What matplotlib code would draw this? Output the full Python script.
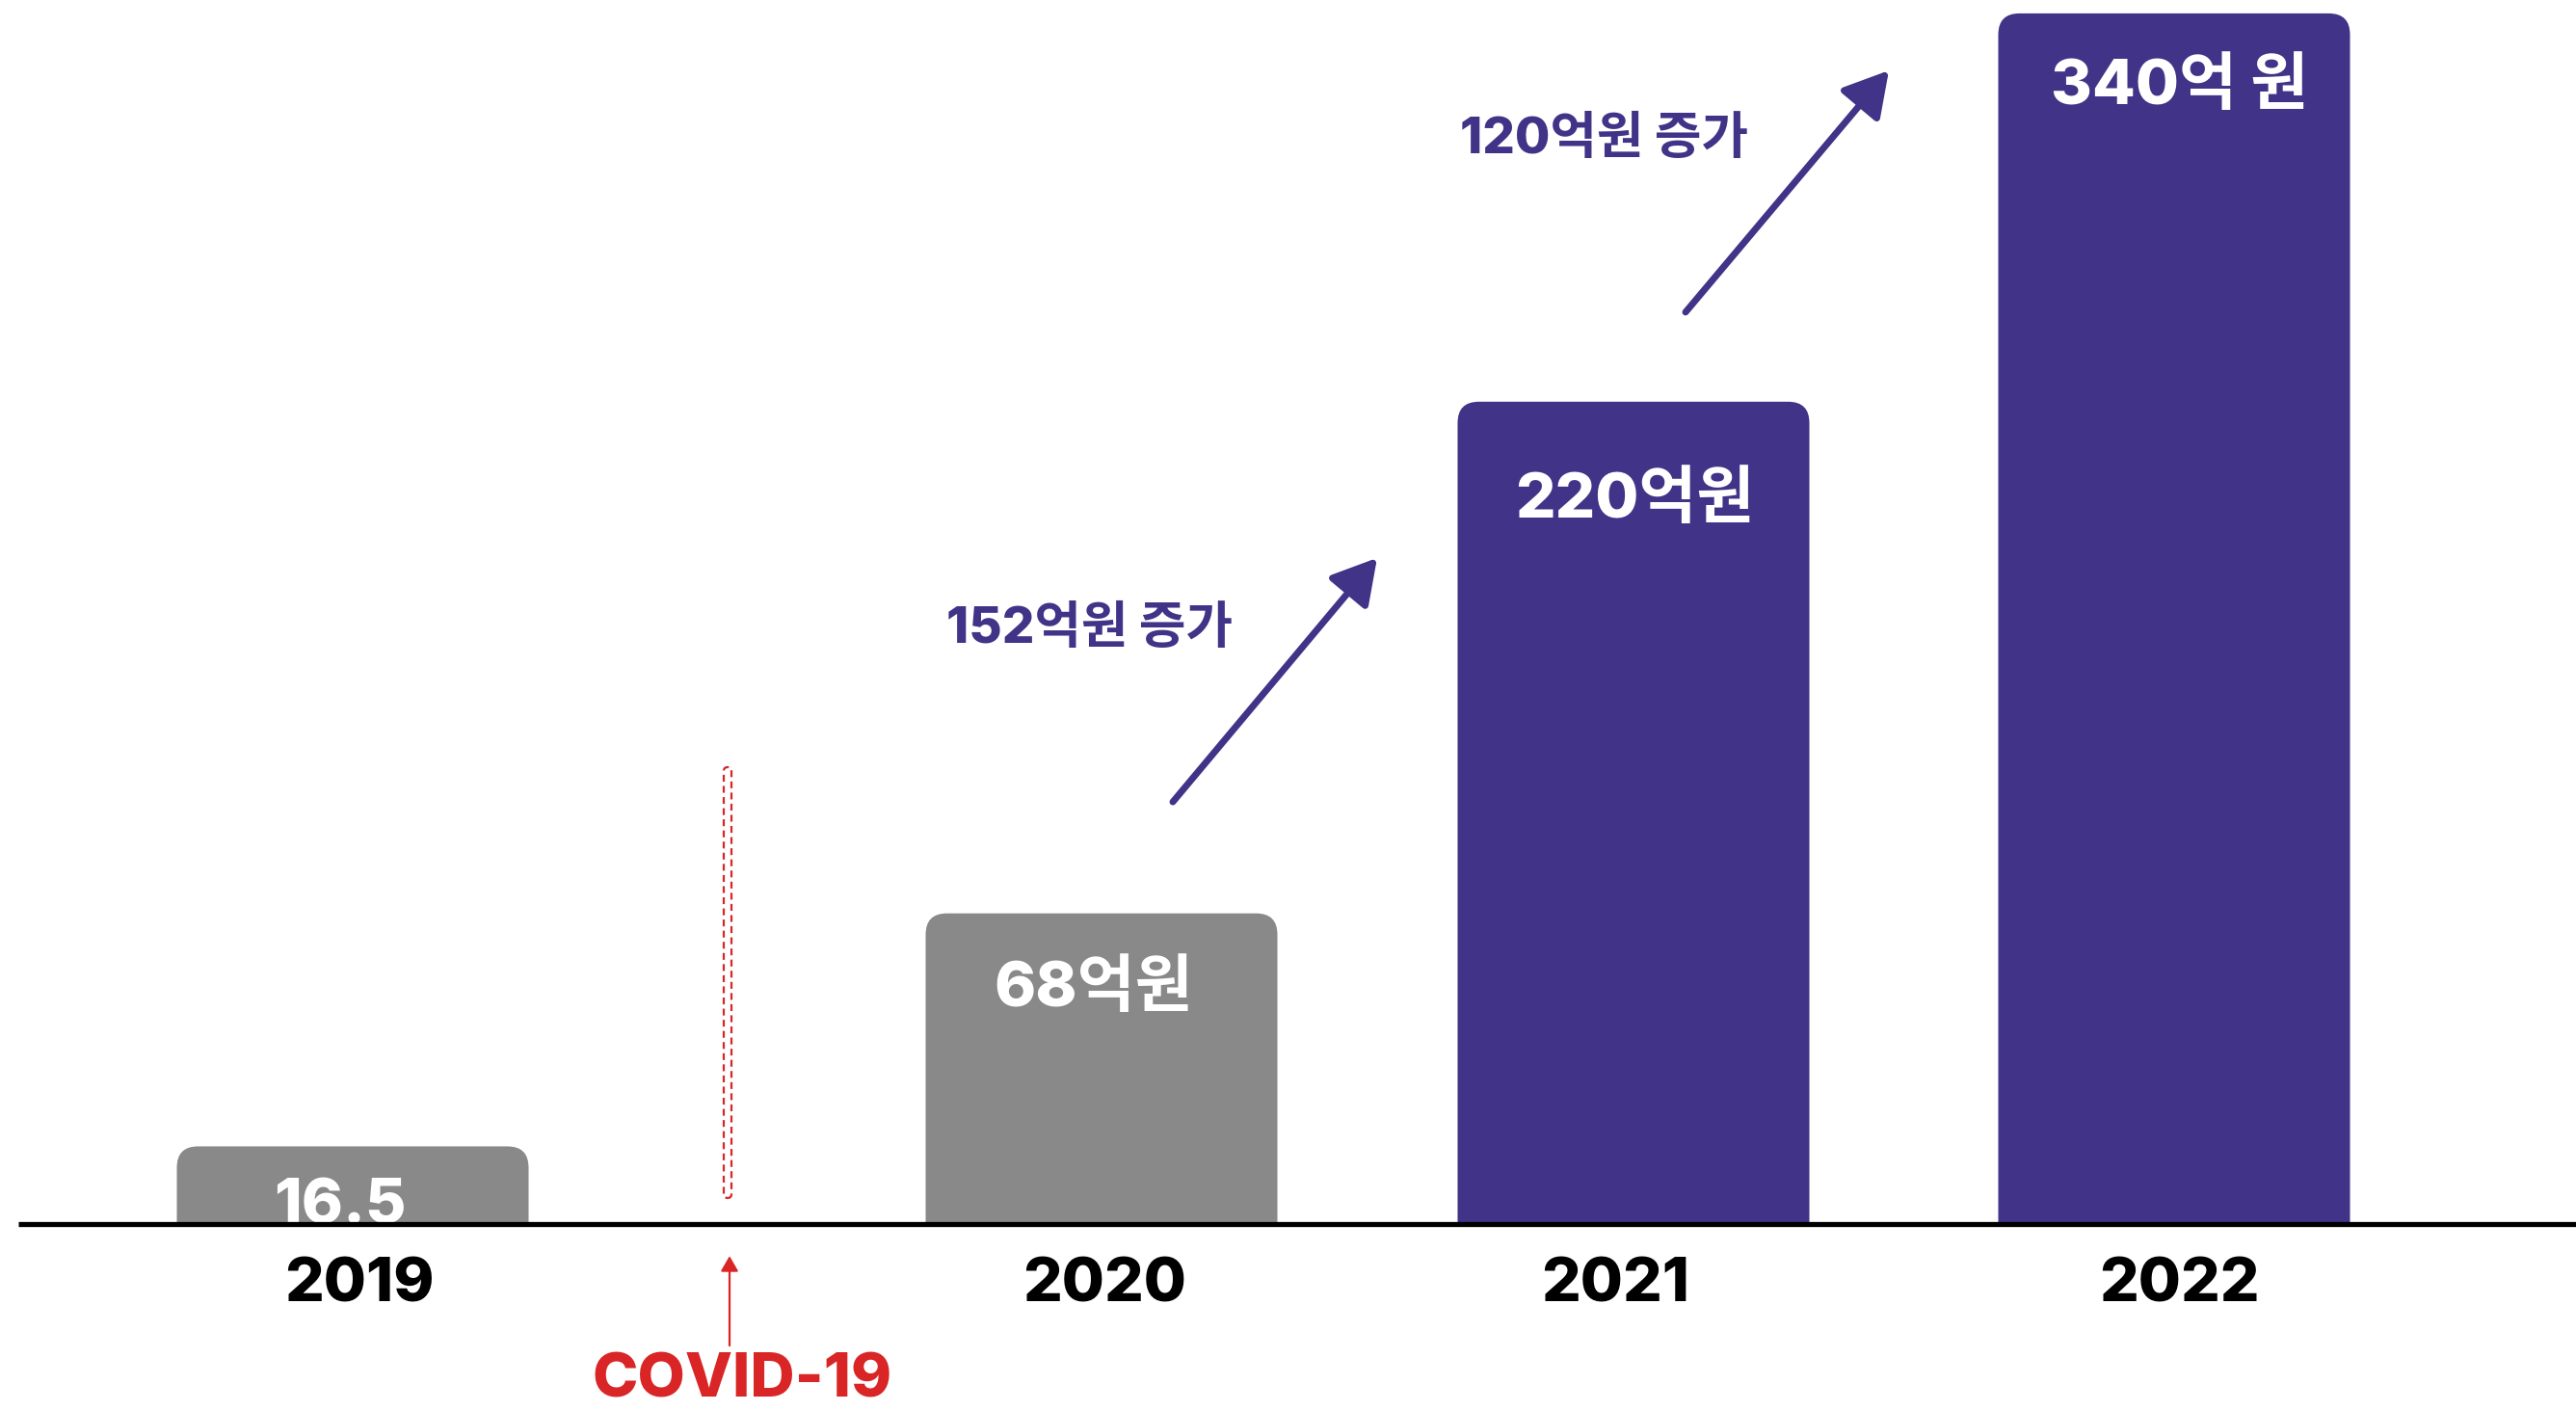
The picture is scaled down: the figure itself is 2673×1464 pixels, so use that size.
import matplotlib
matplotlib.use("Agg")
import matplotlib.pyplot as plt
import matplotlib.transforms as mtransforms
from matplotlib.patches import FancyBboxPatch

# ---------------- data ----------------
years = ["2019", "2020", "2021", "2022"]
values = [16.5, 68, 220, 340]                     # 억원
value_labels = ["16.5", "68억원", "220억원", "340억 원"]
bar_heights = [17, 68, 180, 265]                  # drawn heights (chart is not to scale)
bar_colors = ["#898989", "#898989", "#413387", "#413387"]
increase_labels = ["152억원 증가", "120억원 증가"]
event_label = "COVID-19"

# ---------------- layout ----------------
W, H = 2673, 1464
DPI = 100
PX_PER_UNIT = 4.74
BASE_PX = 194                       # baseline height from bottom (px)
x_pos = [366, 1143, 1695, 2256]     # bar centres in px
bar_w = 365
PURPLE = "#413387"
RED = "#d92525"
FONT = ["Inter", "Noto Sans CJK KR", "DejaVu Sans"]
WEIGHT = 800

fig = plt.figure(figsize=(W / DPI, H / DPI), dpi=DPI)
ax = fig.add_axes([0, BASE_PX / H, 1, (H - BASE_PX) / H])
ax.set_xlim(0, W)
ax.set_ylim(0, (H - BASE_PX) / PX_PER_UNIT)
ax.axis("off")

# bars with rounded top corners (bottom part clipped by the axes)
for x, h, c in zip(x_pos, bar_heights, bar_colors):
    p = FancyBboxPatch((x - bar_w / 2, -10), bar_w, h + 10,
                       boxstyle="round,pad=0,rounding_size=22",
                       mutation_aspect=1 / PX_PER_UNIT,
                       facecolor=c, edgecolor="none", clip_on=True)
    ax.add_patch(p)

# baseline
ax.plot([19, W], [0, 0], color="black", lw=3.8, solid_capstyle="butt",
        clip_on=False, zorder=5)

# value labels inside bars
lab_pos = [(353, 0.0, "baseline"), (1135, 51.4, "center"),
           (1696, 158.3, "center"), (2262, 248.8, "center")]
for (lx, ly, va), t in zip(lab_pos, value_labels):
    ax.text(lx, ly, t, color="white", fontsize=47, fontweight=WEIGHT,
            family=FONT, ha="center", va=va, zorder=4)

# year tick labels
for x, y in zip([373, 1146, 1676, 2261], years):
    ax.text(x, -13.6, y, color="black", fontsize=46, fontweight=WEIGHT,
            family=FONT, ha="center", va="center", clip_on=False)

# increase arrows + labels
arrows = [((1217, 92.4), (1429, 145.8)), ((1749, 199.6), (1960, 252.5))]
for (s, e) in arrows:
    ax.annotate("", xy=e, xytext=s,
                arrowprops=dict(arrowstyle="-|>,head_length=1.4,head_width=0.8",
                                mutation_scale=20, lw=5, color=PURPLE,
                                shrinkA=0, shrinkB=0))
for (tx, ty), t in zip([(1130, 130.1), (1664, 237.3)], increase_labels):
    ax.text(tx, ty, t, color=PURPLE, fontsize=38, fontweight=WEIGHT,
            family=FONT, ha="center", va="center")

# COVID dashed marker
cap = FancyBboxPatch((751, 5.7), 8, 94.3,
                     boxstyle="round,pad=0,rounding_size=4",
                     mutation_aspect=1 / PX_PER_UNIT,
                     facecolor="none", edgecolor=RED, lw=1.6,
                     linestyle=(0, (3.2, 2.0)))
ax.add_patch(cap)

ax.annotate("", xy=(757, -7.0), xytext=(757, -26.6),
            arrowprops=dict(arrowstyle="-|>,head_length=0.95,head_width=0.55",
                            mutation_scale=10, lw=1.6, color=RED,
                            shrinkA=0, shrinkB=0),
            annotation_clip=False)
trans = mtransforms.blended_transform_factory(ax.transData, fig.transFigure)
ax.text(770, 1.0 / H, event_label, color=RED, fontsize=46, fontweight=WEIGHT,
        family=FONT, ha="center", va="bottom", clip_on=False, transform=trans)

fig.savefig("out.png", dpi=DPI, facecolor="white")
